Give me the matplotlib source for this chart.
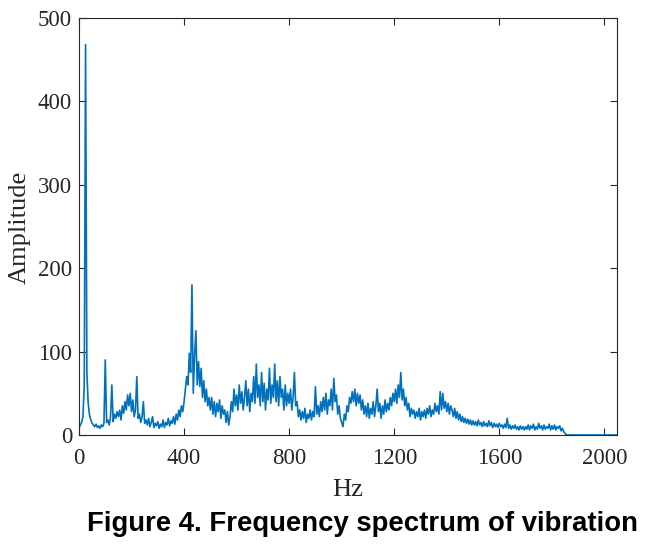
import numpy as np
import matplotlib
matplotlib.use("Agg")
import matplotlib.pyplot as plt

# ---- data ----
freq_step = 5  # Hz between samples
amp_0 = [8, 12, 15, 22, 60, 468, 75, 38, 24, 18, 14, 12, 10, 13, 9, 11, 8, 12, 10, 14]
amp_100 = [90, 15, 18, 12, 22, 60, 16, 25, 20, 28, 22, 30, 18, 35, 26, 40, 30, 48, 35, 50]
amp_200 = [28, 42, 22, 30, 70, 20, 25, 15, 22, 40, 14, 18, 12, 20, 10, 15, 22, 9, 14, 11]
amp_300 = [16, 8, 13, 10, 18, 9, 15, 12, 20, 11, 17, 14, 22, 13, 25, 18, 30, 22, 35, 28]
amp_400 = [40, 55, 70, 60, 98, 75, 180, 50, 95, 125, 60, 88, 58, 80, 45, 65, 40, 55, 35, 45]
amp_500 = [30, 45, 25, 40, 22, 38, 28, 42, 20, 35, 25, 30, 15, 28, 12, 22, 40, 28, 55, 35]
amp_600 = [48, 30, 60, 38, 52, 30, 45, 65, 35, 55, 28, 50, 40, 70, 38, 85, 45, 60, 35, 75]
amp_700 = [40, 62, 30, 55, 42, 80, 38, 60, 45, 85, 40, 65, 35, 70, 45, 55, 30, 60, 35, 50]
amp_800 = [38, 55, 30, 45, 75, 35, 40, 22, 30, 18, 28, 20, 32, 15, 25, 20, 30, 18, 28, 22]
amp_900 = [58, 25, 35, 22, 40, 28, 45, 30, 50, 25, 42, 35, 55, 30, 68, 40, 48, 25, 35, 20]
amp_1000 = [15, 10, 25, 18, 35, 28, 45, 38, 52, 40, 55, 35, 50, 38, 48, 30, 42, 25, 35, 22]
amp_1100 = [38, 20, 32, 25, 40, 22, 35, 55, 28, 38, 20, 35, 25, 42, 28, 38, 30, 45, 35, 50]
amp_1200 = [40, 55, 38, 60, 45, 75, 42, 55, 35, 45, 30, 38, 22, 32, 25, 30, 20, 28, 22, 32]
amp_1300 = [18, 28, 22, 30, 20, 32, 25, 35, 22, 30, 25, 38, 28, 35, 25, 52, 30, 50, 32, 40]
amp_1400 = [28, 38, 25, 35, 30, 22, 32, 20, 28, 18, 25, 16, 22, 15, 20, 14, 19, 13, 18, 12]
amp_1500 = [17, 12, 16, 11, 18, 12, 15, 10, 16, 11, 14, 10, 17, 11, 15, 9, 14, 10, 13, 9]
amp_1600 = [14, 10, 12, 8, 13, 9, 20, 8, 12, 7, 11, 8, 12, 7, 10, 6, 11, 7, 10, 6]
amp_1700 = [10, 7, 12, 6, 11, 8, 13, 6, 10, 7, 14, 8, 11, 6, 12, 7, 10, 8, 13, 6]
amp_1800 = [11, 7, 12, 6, 10, 8, 11, 5, 8, 4, 2, 0.5, 0]
tail_freq = [2048]
tail_amp = [0]

amplitude = (amp_0 + amp_100 + amp_200 + amp_300 + amp_400 + amp_500 + amp_600 +
             amp_700 + amp_800 + amp_900 + amp_1000 + amp_1100 + amp_1200 +
             amp_1300 + amp_1400 + amp_1500 + amp_1600 + amp_1700 + amp_1800 + tail_amp)
freq = list(np.arange(len(amplitude) - len(tail_amp)) * freq_step) + tail_freq

x_ticks = [0, 400, 800, 1200, 1600, 2000]
y_ticks = [0, 100, 200, 300, 400, 500]
x_label = "Hz"
y_label = "Amplitude"
caption = "Figure 4. Frequency spectrum of vibration"

# ---- figure ----
fig = plt.figure(figsize=(6.58, 5.45), dpi=100)
ax = fig.add_axes([79 / 658, 110 / 545, 538 / 658, 417 / 545])
ax.plot(freq, amplitude, color="#0072BD", linewidth=1.2)
ax.set_xlim(0, 2048)
ax.set_ylim(0, 500)
ax.set_xticks(x_ticks)
ax.set_yticks(y_ticks)

serif = ["Liberation Serif", "DejaVu Serif"]
for lab in ax.get_xticklabels() + ax.get_yticklabels():
    lab.set_fontfamily(serif)
    lab.set_fontsize(16.5)
ax.tick_params(direction="in", length=5, width=0.8, colors="#262626",
               top=True, right=True)
ax.tick_params(axis="x", pad=9)
ax.tick_params(axis="y", pad=5)
for s in ax.spines.values():
    s.set_linewidth(0.8)
    s.set_color("#262626")

fig.text(348 / 658, 1 - 490 / 545, x_label, family=serif, fontsize=19,
         ha="center", va="center", color="#262626")
fig.text(20 / 658, 1 - 227 / 545, y_label, family=serif, fontsize=19,
         ha="center", va="center", rotation=90, color="#262626")
fig.text(362 / 658, 1 - 524 / 545, caption, family=["Liberation Sans", "DejaVu Sans"],
         fontsize=19.8, fontweight="bold", ha="center", va="center", color="black")

fig.savefig("out.png", dpi=100)
